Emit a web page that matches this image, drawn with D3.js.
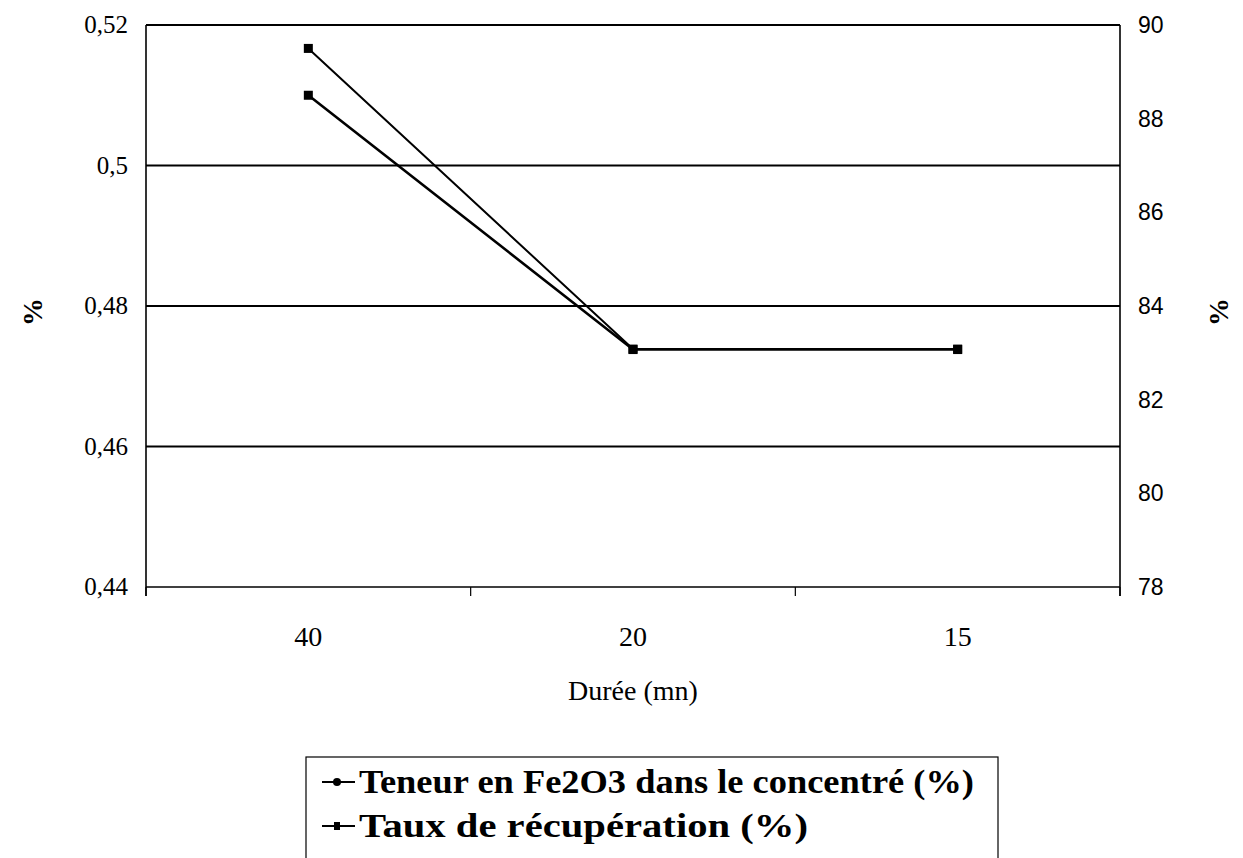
<!DOCTYPE html>
<html><head><meta charset="utf-8">
<script src="https://cdn.jsdelivr.net/npm/d3@7"></script>
<style>body{margin:0;background:#fff}</style>
</head><body>
<svg id="c" width="1243" height="858"></svg>
<script>
const categories = ["40", "20", "15"];
const teneur = [0.510, 0.4738, 0.4738];
const taux = [89.5, 83.08, 83.08];
const leftTicks = [0.44, 0.46, 0.48, 0.50, 0.52];
const rightTicks = [78, 80, 82, 84, 86, 88, 90];
const seriesNames = ["Teneur en Fe2O3 dans le concentré (%)", "Taux de récupération (%)"];

const svg = d3.select("#c");
const L = 146, R = 1120, T = 25, B = 587;
const x = d3.scaleBand().domain(categories).range([L, R]);
const yL = d3.scaleLinear().domain([0.44, 0.52]).range([B, T]);
const yR = d3.scaleLinear().domain([78, 90]).range([B, T]);
const serif = "'Liberation Serif','Times New Roman',serif";
const sans = "'Liberation Sans',Arial,sans-serif";

// gridlines
svg.append("g").selectAll("line").data(leftTicks.slice(1)).join("line")
  .attr("x1", L).attr("x2", R).attr("y1", d => yL(d)).attr("y2", d => yL(d))
  .attr("stroke", "#000").attr("stroke-width", 2.2);

// frame left/right/bottom
svg.append("line").attr("x1", L).attr("x2", L).attr("y1", T).attr("y2", B + 9).attr("stroke", "#000").attr("stroke-width", 1.6);
svg.append("line").attr("x1", R).attr("x2", R).attr("y1", T).attr("y2", B + 9).attr("stroke", "#000").attr("stroke-width", 1.6);
svg.append("line").attr("x1", L).attr("x2", R).attr("y1", B).attr("y2", B).attr("stroke", "#000").attr("stroke-width", 1.6);

// x ticks at band boundaries
const bounds = categories.map(c => x(c)).concat([R]);
svg.append("g").selectAll("line").data(bounds).join("line")
  .attr("x1", d => d).attr("x2", d => d).attr("y1", B).attr("y2", B + 9)
  .attr("stroke", "#000").attr("stroke-width", 1.2);

// x labels
svg.append("g").selectAll("text").data(categories).join("text")
  .attr("x", d => x(d) + x.bandwidth() / 2).attr("y", 646)
  .attr("text-anchor", "middle").attr("font-family", serif).attr("font-size", 28)
  .text(d => d);

// left tick labels
svg.append("g").selectAll("text").data(leftTicks).join("text")
  .attr("x", 128).attr("y", d => yL(d) + 8)
  .attr("text-anchor", "end").attr("font-family", serif).attr("font-size", 25)
  .text(d => String(+d.toFixed(2)).replace(".", ","));

// right tick labels
svg.append("g").selectAll("text").data(rightTicks).join("text")
  .attr("x", 1138).attr("y", d => yR(d) + 8)
  .attr("text-anchor", "start").attr("font-family", sans).attr("font-size", 23)
  .text(d => d);

// axis titles
svg.append("text").attr("transform", "translate(42,312) rotate(-90)")
  .attr("text-anchor", "middle").attr("font-family", serif).attr("font-weight", "bold").attr("font-size", 28).text("%");
svg.append("text").attr("transform", "translate(1228,312) rotate(-90)")
  .attr("text-anchor", "middle").attr("font-family", serif).attr("font-weight", "bold").attr("font-size", 28).text("%");
svg.append("text").attr("x", 633).attr("y", 700).attr("text-anchor", "middle")
  .attr("font-family", serif).attr("font-size", 28).text("Durée (mn)");

// lines
const cx = d => x(d) + x.bandwidth() / 2;
const line1 = d3.line().x((d, i) => cx(categories[i])).y(d => yL(d));
const line2 = d3.line().x((d, i) => cx(categories[i])).y(d => yR(d));
svg.append("path").attr("d", line1(teneur)).attr("fill", "none").attr("stroke", "#000").attr("stroke-width", 2.6);
svg.append("path").attr("d", line2(taux)).attr("fill", "none").attr("stroke", "#000").attr("stroke-width", 2);

svg.append("g").selectAll("rect").data(teneur).join("rect")
  .attr("x", (d, i) => cx(categories[i]) - 4.5).attr("y", d => yL(d) - 4.5)
  .attr("width", 9).attr("height", 9).attr("fill", "#000");
svg.append("g").selectAll("rect").data(taux).join("rect")
  .attr("x", (d, i) => cx(categories[i]) - 4.5).attr("y", d => yR(d) - 4.5)
  .attr("width", 9).attr("height", 9).attr("fill", "#000");

// legend
const lg = svg.append("g");
lg.append("rect").attr("x", 306).attr("y", 757).attr("width", 692).attr("height", 110)
  .attr("fill", "none").attr("stroke", "#000").attr("stroke-width", 1.2);
const legendLen = [615, 449];
seriesNames.forEach((name, i) => {
  const yy = 782 + i * 44;
  lg.append("line").attr("x1", 322).attr("x2", 355).attr("y1", yy).attr("y2", yy).attr("stroke", "#000").attr("stroke-width", 2);
  if (i === 0) lg.append("circle").attr("cx", 337).attr("cy", yy).attr("r", 4).attr("fill", "#000");
  else lg.append("rect").attr("x", 334).attr("y", yy - 4).attr("width", 6).attr("height", 8).attr("fill", "#000");
  lg.append("text").attr("x", 359).attr("y", yy + 11).attr("font-family", serif)
    .attr("font-weight", "bold").attr("font-size", 33)
    .attr("textLength", legendLen[i]).attr("lengthAdjust", "spacingAndGlyphs").text(name);
});
</script>
</body></html>
